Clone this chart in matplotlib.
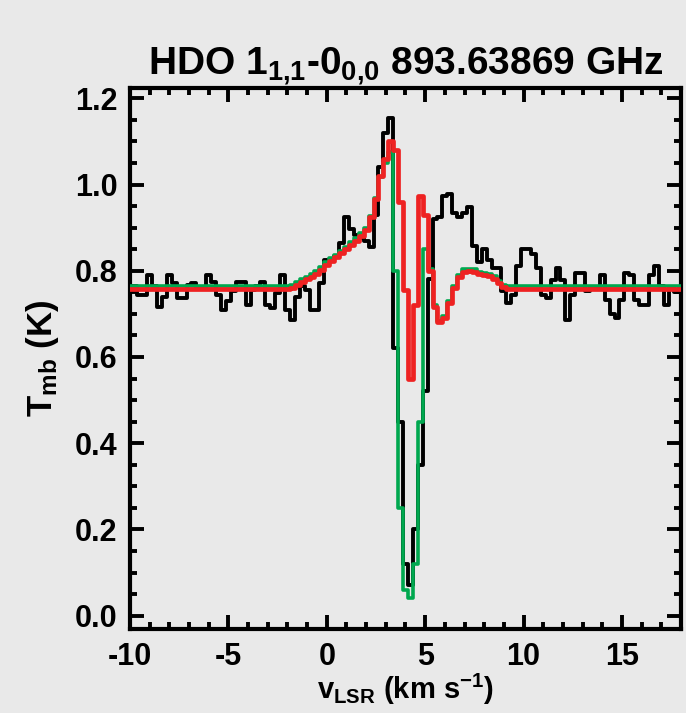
import numpy as np
import matplotlib
matplotlib.use("Agg")
import matplotlib.pyplot as plt
from matplotlib.ticker import MultipleLocator

# ---------------- data ----------------
chan_start = -10.0
chan_width = 0.25
n_chan = 113
velocity = chan_start + chan_width * np.arange(n_chan)

observed = [
    0.764, 0.764, 0.744, 0.744, 0.791, 0.764, 0.717, 0.740, 0.791, 0.772,
    0.737, 0.737, 0.768, 0.772, 0.760, 0.760, 0.791, 0.775, 0.744, 0.709,
    0.730, 0.752, 0.775, 0.775, 0.721, 0.756, 0.765, 0.775, 0.720, 0.714,
    0.749, 0.791, 0.709, 0.686, 0.740, 0.764, 0.756, 0.709, 0.709, 0.772,
    0.826, 0.826, 0.834, 0.865, 0.925, 0.896, 0.884, 0.876, 0.870, 0.855,
    0.930, 1.040, 1.120, 1.155, 0.620, 0.450, 0.120, 0.070, 0.200, 0.350,
    0.520, 0.780, 0.920, 0.924, 0.973, 0.978, 0.935, 0.924, 0.935, 0.947,
    0.857, 0.820, 0.850, 0.826, 0.807, 0.807, 0.752, 0.726, 0.744, 0.810,
    0.850, 0.850, 0.838, 0.807, 0.744, 0.737, 0.779, 0.807, 0.779, 0.686,
    0.744, 0.795, 0.795, 0.752, 0.763, 0.763, 0.790, 0.733, 0.700, 0.690,
    0.733, 0.795, 0.790, 0.733, 0.720, 0.720, 0.790, 0.810, 0.765, 0.720,
    0.763, 0.750, 0.760,
]

model_red = [
    0.758, 0.758, 0.758, 0.758, 0.758, 0.758, 0.758, 0.758, 0.758, 0.758,
    0.758, 0.758, 0.758, 0.758, 0.758, 0.758, 0.758, 0.758, 0.758, 0.758,
    0.758, 0.758, 0.758, 0.758, 0.758, 0.758, 0.758, 0.758, 0.758, 0.758,
    0.758, 0.758, 0.758, 0.760, 0.767, 0.774, 0.780, 0.786, 0.793, 0.802,
    0.814, 0.823, 0.831, 0.841, 0.850, 0.860, 0.870, 0.881, 0.894, 0.924,
    0.967, 1.020, 1.060, 1.102, 1.080, 0.960, 0.756, 0.550, 0.720, 0.973,
    0.930, 0.800, 0.716, 0.680, 0.690, 0.725, 0.760, 0.785, 0.798, 0.800,
    0.798, 0.792, 0.790, 0.788, 0.782, 0.772, 0.762, 0.758, 0.758, 0.758,
    0.758, 0.758, 0.758, 0.758, 0.758, 0.758, 0.758, 0.758, 0.758, 0.758,
    0.758, 0.758, 0.758, 0.758, 0.758, 0.758, 0.758, 0.758, 0.758, 0.758,
    0.758, 0.758, 0.758, 0.758, 0.758, 0.758, 0.758, 0.758, 0.758, 0.758,
    0.758, 0.758, 0.758,
]

model_green = [
    0.764, 0.764, 0.764, 0.764, 0.764, 0.764, 0.764, 0.764, 0.764, 0.764,
    0.764, 0.764, 0.764, 0.764, 0.764, 0.764, 0.764, 0.764, 0.764, 0.764,
    0.764, 0.764, 0.764, 0.764, 0.764, 0.764, 0.764, 0.764, 0.764, 0.764,
    0.764, 0.764, 0.764, 0.766, 0.773, 0.780, 0.786, 0.792, 0.799, 0.808,
    0.820, 0.829, 0.837, 0.847, 0.856, 0.866, 0.876, 0.887, 0.899, 0.928,
    0.968, 1.018, 1.050, 1.075, 0.800, 0.250, 0.060, 0.040, 0.120, 0.450,
    0.850, 0.804, 0.720, 0.684, 0.694, 0.729, 0.765, 0.790, 0.803, 0.805,
    0.803, 0.797, 0.795, 0.793, 0.787, 0.777, 0.767, 0.764, 0.764, 0.764,
    0.764, 0.764, 0.764, 0.764, 0.764, 0.764, 0.764, 0.764, 0.764, 0.764,
    0.764, 0.764, 0.764, 0.764, 0.764, 0.764, 0.764, 0.764, 0.764, 0.764,
    0.764, 0.764, 0.764, 0.764, 0.764, 0.764, 0.764, 0.764, 0.764, 0.764,
    0.764, 0.764, 0.764,
]

x_ticks = [-10, -5, 0, 5, 10, 15]
y_ticks = [0.0, 0.2, 0.4, 0.6, 0.8, 1.0, 1.2]
title_text = r"HDO 1$_{1{,}1}$-0$_{0{,}0}$ 893.63869 GHz"
xlabel_text = r"v$_{LSR}$ (km s$^{-1}$)"
ylabel_text = r"T$_{mb}$ (K)"

# ---------------- style ----------------
FONT = ["Liberation Sans", "DejaVu Sans"]
plt.rcParams["font.family"] = FONT
plt.rcParams["font.weight"] = "bold"
plt.rcParams["axes.unicode_minus"] = False
plt.rcParams["mathtext.fontset"] = "custom"
plt.rcParams["mathtext.rm"] = "Liberation Sans:bold"
plt.rcParams["mathtext.bf"] = "Liberation Sans:bold"
plt.rcParams["mathtext.it"] = "Liberation Sans:bold"
plt.rcParams["mathtext.sf"] = "Liberation Sans:bold"
plt.rcParams["mathtext.default"] = "bf"

BG = "#e9e9e9"
fig = plt.figure(figsize=(6.86, 7.13), dpi=100, facecolor=BG)
ax = fig.add_axes([0.1895, 0.1178, 0.8032, 0.7588])
ax.set_facecolor(BG)

ax.step(velocity, observed, where="mid", color="black", lw=2.8, zorder=2)
ax.step(velocity, model_green, where="mid", color="#00a84f", lw=2.6, zorder=3)
ax.step(velocity, model_red, where="mid", color="#ee2222", lw=3.4, zorder=4)

ax.set_xlim(-10, 18)
ax.set_ylim(-0.031, 1.224)
ax.set_xticks(x_ticks)
ax.set_xticklabels([str(t) for t in x_ticks])
ax.set_yticks(y_ticks)
ax.set_yticklabels([f"{t:.1f}" for t in y_ticks])
ax.xaxis.set_minor_locator(MultipleLocator(1))
ax.yaxis.set_minor_locator(MultipleLocator(0.05))

ax.tick_params(which="both", direction="in", top=True, right=True, width=2.8,
               labelsize=22, pad=9)
ax.tick_params(which="major", length=10)
ax.tick_params(which="minor", length=5)
for lab in ax.get_xticklabels() + ax.get_yticklabels():
    lab.set_fontweight("bold")
for sp in ax.spines.values():
    sp.set_linewidth(3)

ax.set_title(title_text, fontsize=28, fontweight="bold", pad=5)
ax.set_xlabel(xlabel_text, fontsize=21, fontweight="bold", labelpad=0)
ax.set_ylabel(ylabel_text, fontsize=25, fontweight="bold", labelpad=10)

fig.savefig("out.png", dpi=100, facecolor=BG)
